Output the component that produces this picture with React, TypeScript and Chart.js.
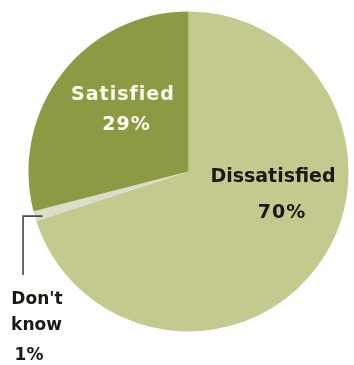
import React, { useEffect, useRef } from "react";
import { Chart, registerables } from "chart.js";

Chart.register(...registerables);

const categories = ["Dissatisfied", "Don't know", "Satisfied"];
const values = [70, 1, 29];
const valueLabels = ["70%", "1%", "29%"];
const colors = ["#c4c98d", "#dcdccb", "#8d9a44"];

const labelPlugin = {
  id: "pieLabels",
  afterDraw(chart: any) {
    const ctx = chart.ctx;
    const meta = chart.getDatasetMeta(0);
    const arc = meta.data[0];
    const cx = arc.x;
    const cy = arc.y;
    const r = arc.outerRadius;
    ctx.save();
    ctx.textAlign = "center";
    ctx.textBaseline = "alphabetic";

    // Satisfied
    ctx.fillStyle = "#fffff2";
    ctx.font = "bold 19px 'DejaVu Sans'";
    ctx.letterSpacing = "1px";
    ctx.fillText(categories[2], cx - 0.41 * r, cy - 0.447 * r);
    ctx.fillText(valueLabels[2], cx - 0.3875 * r, cy - 0.259 * r);

    // Dissatisfied
    ctx.fillStyle = "#1a1a14";
    ctx.letterSpacing = "0px";
    ctx.fillText(categories[0], cx + 0.528 * r, cy + 0.066 * r);
    ctx.letterSpacing = "1px";
    ctx.fillText(valueLabels[0], cx + 0.584 * r, cy + 0.29 * r);

    // Don't know
    ctx.letterSpacing = "0px";
    ctx.font = "bold 17px 'DejaVu Sans'";
    const parts = categories[1].split(" ");
    ctx.fillText(parts[0], cx - 0.947 * r, cy + 0.828 * r);
    ctx.fillText(parts[1], cx - 0.95 * r, cy + 0.99 * r);
    ctx.fillText(valueLabels[1], cx - 0.997 * r, cy + 1.178 * r);

    // leader line
    const dk = meta.data[1];
    const mid = (dk.startAngle + dk.endAngle) / 2;
    const sx = cx + Math.cos(mid) * r * 0.95;
    const sy = cy + Math.sin(mid) * r;
    const lx = cx - 1.034 * r;
    ctx.strokeStyle = "#4a4a4a";
    ctx.lineWidth = 1.6;
    ctx.beginPath();
    ctx.moveTo(sx, sy);
    ctx.lineTo(lx, sy);
    ctx.lineTo(lx, cy + 0.647 * r);
    ctx.stroke();
    ctx.restore();
  },
};

export default function App() {
  const ref = useRef<HTMLCanvasElement>(null);
  useEffect(() => {
    if (!ref.current) return;
    const chart = new Chart(ref.current, {
      type: "pie",
      data: {
        labels: categories,
        datasets: [
          {
            data: values,
            backgroundColor: colors,
            borderWidth: 0,
          },
        ],
      },
      options: {
        responsive: false,
        animation: false,
        layout: { padding: { left: 28.5, right: 5.5, top: 11.5, bottom: 33.5 } },
        plugins: {
          legend: { display: false },
          tooltip: { enabled: false },
        },
      },
      plugins: [labelPlugin],
    });
    return () => chart.destroy();
  }, []);
  return (
    <div style={{ position: "absolute", left: 0, top: 0, width: 354, height: 365, background: "#fff" }}>
      <canvas ref={ref} width={354} height={365} style={{ width: 354, height: 365 }} />
    </div>
  );
}
